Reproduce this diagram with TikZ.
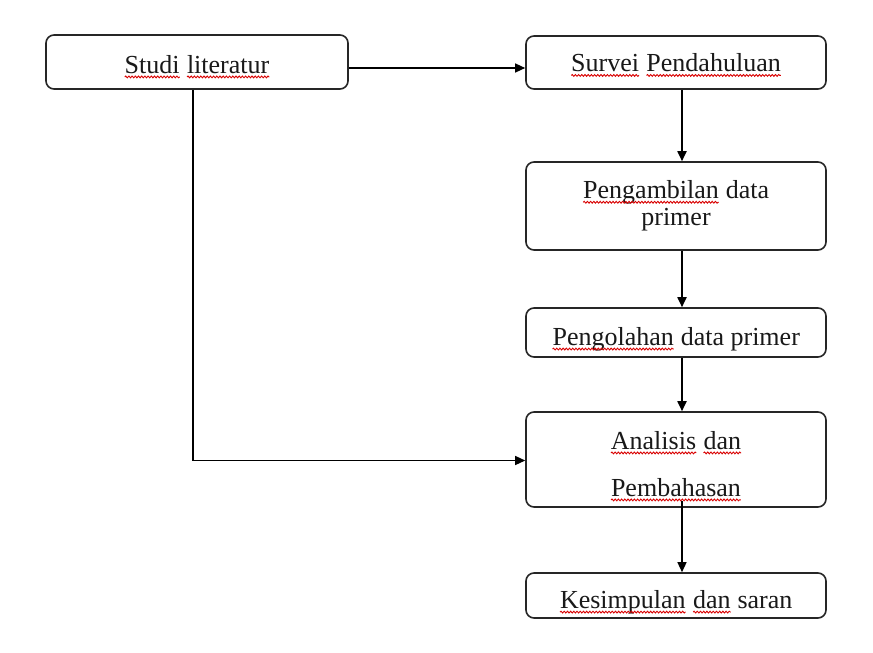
\documentclass[tikz,border=0pt]{standalone}
\usepackage{fontspec}
\setmainfont{Liberation Serif}
\usetikzlibrary{arrows.meta,decorations.pathmorphing}
\tikzset{wordnode/.style={draw=none,sharp corners,minimum width=0pt,minimum height=0pt,inner sep=0pt,outer sep=0pt,align=left}}
\newcommand\sq[1]{\tikz[baseline=(w.base),x=1pt,y=1pt,sharp corners]{\node[wordnode](w){#1};\draw[red!85!black,line width=0.9pt,sharp corners,decorate,decoration={snake,amplitude=0.9pt,segment length=3.2pt}] ([yshift=-3.5pt]w.base west)--([yshift=-3.5pt]w.base east);}}
\newcommand\lift[1]{\rule{0pt}{#1}}
\begin{document}
\begin{tikzpicture}[x=1pt,y=-1pt,
  box/.style={draw=black!85,line width=1.6pt,rounded corners=8pt,minimum width=300pt,inner sep=0pt,align=center,
    font=\fontsize{26}{27}\selectfont,text=black!90},
  arr/.style={line width=1.8pt,-{Triangle[length=10pt,width=9pt]}},
  thinarr/.style={line width=1.3pt,-{Triangle[length=10pt,width=9pt]}}]
\useasboundingbox[fill=white] (0,0) rectangle (873,653);
\node[box,minimum width=302pt,minimum height=54pt] (st) at (197,62) {\lift{27.7pt}\sq{Studi} \sq{literatur}};
\node[box,minimum height=53pt] (sv) at (676,62.5) {\lift{23.7pt}\sq{Survei} \sq{Pendahuluan}};
\node[box,minimum height=88pt] (pa) at (676,206) {\sq{Pengambilan} data\\primer};
\node[box,minimum height=49pt] (po) at (676,332.5) {\lift{31.7pt}\sq{Pengolahan} data primer};
\node[box,minimum height=95pt] (an) at (676,459.5) {\lift{31.7pt}\sq{Analisis} \sq{dan}\\[20pt]\sq{Pembahasan}};
\node[box,minimum height=45pt] (ks) at (676,595.5) {\lift{31.7pt}\sq{Kesimpulan} \sq{dan} saran};
\draw[thinarr] ([yshift=-6pt]st.east) -- ([yshift=-6pt]st.east -| sv.west);
\draw[arr] ([xshift=6pt]sv.south) -- ([xshift=6pt]pa.north);
\draw[arr] ([xshift=6pt]pa.south) -- ([xshift=6pt]po.north);
\draw[arr] ([xshift=6pt]po.south) -- ([xshift=6pt]an.north);
\draw[thinarr] ([xshift=-4pt]st.south) |- ([yshift=-1pt]an.west);
\coordinate (anb) at ([xshift=6pt,yshift=7pt]an.south);
\draw[thinarr] (anb) -- ([xshift=6pt]ks.north);
\end{tikzpicture}
\end{document}
